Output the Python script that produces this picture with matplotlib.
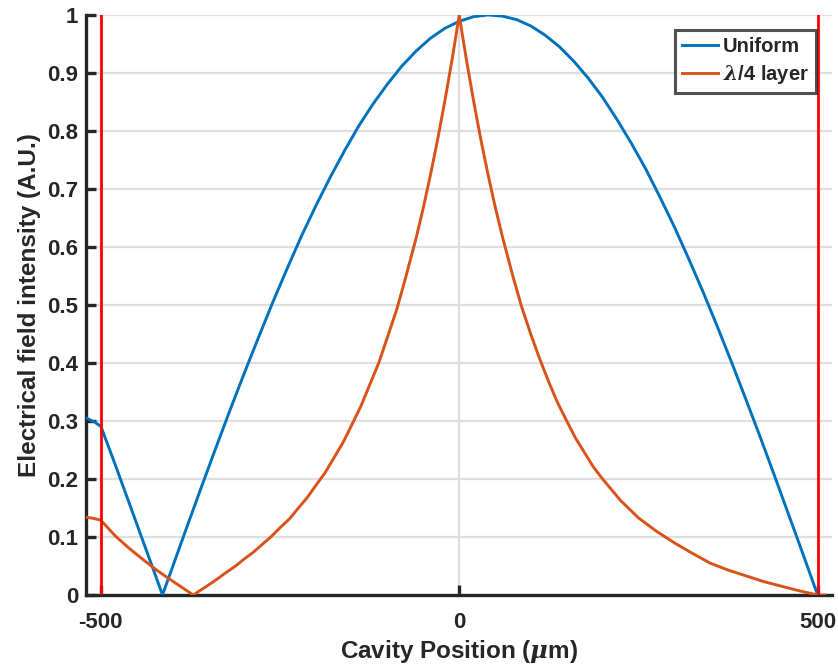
import matplotlib
matplotlib.use("Agg")
import matplotlib.pyplot as plt

# field profiles
x_uniform = [-520, -510, -500, -480, -460, -440, -420, -414, -400, -380, -360, -340,
             -320, -300, -280, -260, -240, -220, -200, -180, -160, -140, -120, -100,
             -80, -60, -40, -20, 0, 20, 40, 60, 80, 100, 120, 140, 160, 180, 200,
             220, 240, 260, 280, 300, 320, 340, 360, 380, 400, 420, 440, 460, 480, 500]
y_uniform = [0.305, 0.299, 0.291, 0.225, 0.157, 0.089, 0.021, 0.0, 0.048, 0.117, 0.185, 0.252,
             0.318, 0.382, 0.444, 0.505, 0.563, 0.619, 0.671, 0.720, 0.766, 0.809, 0.847, 0.881,
             0.912, 0.938, 0.960, 0.977, 0.989, 0.997, 1.0, 0.998, 0.992, 0.981, 0.965, 0.945, 0.920, 0.891, 0.858,
             0.820, 0.779, 0.735, 0.686, 0.635, 0.580, 0.523, 0.463, 0.401, 0.337, 0.272, 0.205, 0.137, 0.069, 0.0]

x_quarter = [-520, -510, -500, -480, -460, -440, -420, -400, -371, -360, -350, -337, -325, -312, -300,
             -287, -275, -262, -250, -237, -225, -212, -200, -187, -175, -162, -150, -137, -125,
             -112, -100, -87, -75, -60, -50, -40, -30,
             -20, -10, -5, 0, 5, 10, 20, 30, 40, 50, 60, 75, 87, 100, 112, 125, 137, 150, 162, 175, 187, 200,
             225, 250, 275, 300, 325, 350, 375, 400, 425, 450, 475, 500, 510]
y_quarter = [0.134, 0.132, 0.129, 0.102, 0.080, 0.060, 0.041, 0.024, 0.0, 0.009, 0.017, 0.028, 0.039, 0.050, 0.062,
             0.074, 0.087, 0.101, 0.116, 0.131, 0.149, 0.168, 0.189, 0.211, 0.236, 0.263, 0.293, 0.326, 0.362,
             0.401, 0.445, 0.493, 0.546, 0.616, 0.668, 0.725, 0.786,
             0.852, 0.923, 0.961, 1.0, 0.961, 0.923, 0.852, 0.786, 0.726, 0.670, 0.619, 0.549, 0.497, 0.449, 0.408, 0.367, 0.332, 0.300, 0.271, 0.245, 0.221, 0.200,
             0.163, 0.133, 0.110, 0.090, 0.072, 0.055, 0.043, 0.033, 0.023, 0.015, 0.007, 0.0, 0.0]

mirrors = [-500, 500]
x_ticks = [-500, 0, 500]
y_ticks = [0, 0.1, 0.2, 0.3, 0.4, 0.5, 0.6, 0.7, 0.8, 0.9, 1]
y_ticklabels = ["0", "0.1", "0.2", "0.3", "0.4", "0.5", "0.6", "0.7", "0.8", "0.9", "1"]

txt = "#262626"
plt.rcParams["font.family"] = ["Liberation Sans", "DejaVu Sans"]
plt.rcParams["font.weight"] = "bold"
plt.rcParams["axes.unicode_minus"] = False
plt.rcParams["mathtext.fontset"] = "custom"
plt.rcParams["mathtext.it"] = "DejaVu Serif:italic:bold"
plt.rcParams["mathtext.rm"] = "Liberation Sans:bold"

fig = plt.figure(figsize=(8.38, 6.68), dpi=100)
ax = fig.add_axes([0.1032, 0.1093, 0.8896, 0.8683])

ax.plot(x_uniform, y_uniform, color="#0072BD", lw=2.1, label="Uniform", zorder=3)
ax.plot(x_quarter, y_quarter, color="#D95319", lw=2.1, label=r"$\lambda$/4 layer", zorder=3)
for m in mirrors:
    ax.plot([m, m], [0, 1], color="red", lw=2.0, zorder=4)

ax.set_xlim(-520, 520)
ax.set_ylim(0, 1)
ax.set_xticks(x_ticks)
ax.set_xticklabels([str(v) for v in x_ticks])
ax.set_yticks(y_ticks)
ax.set_yticklabels(y_ticklabels)

ax.grid(True, color="#DEDEDE", lw=1.6, zorder=0)
ax.set_axisbelow(True)
for s in ["top", "right"]:
    ax.spines[s].set_visible(False)
for s in ["left", "bottom"]:
    ax.spines[s].set_linewidth(2.4)
    ax.spines[s].set_color(txt)
ax.tick_params(direction="in", length=7, width=2.4, colors=txt, labelsize=16)
ax.tick_params(axis="y", pad=6)
ax.tick_params(axis="x", pad=12)
for lab in ax.get_xticklabels() + ax.get_yticklabels():
    lab.set_fontweight("bold")

ax.set_xlabel(r"Cavity Position ($\mu$m)", fontsize=17.5, fontweight="bold", color=txt, labelpad=4)
ax.set_ylabel("Electrical field intensity (A.U.)", fontsize=17.5, fontweight="bold", color=txt, labelpad=4)

leg = ax.legend(loc="upper right", bbox_to_anchor=(0.9785, 0.974), fontsize=14.5, frameon=True,
                fancybox=False, borderpad=0.35, handlelength=1.8, handletextpad=0.25,
                labelspacing=0.35, borderaxespad=0)
leg.get_frame().set_edgecolor(txt)
leg.get_frame().set_linewidth(2.2)
for t in leg.get_texts():
    t.set_color(txt)

fig.savefig("out.png", dpi=100)
